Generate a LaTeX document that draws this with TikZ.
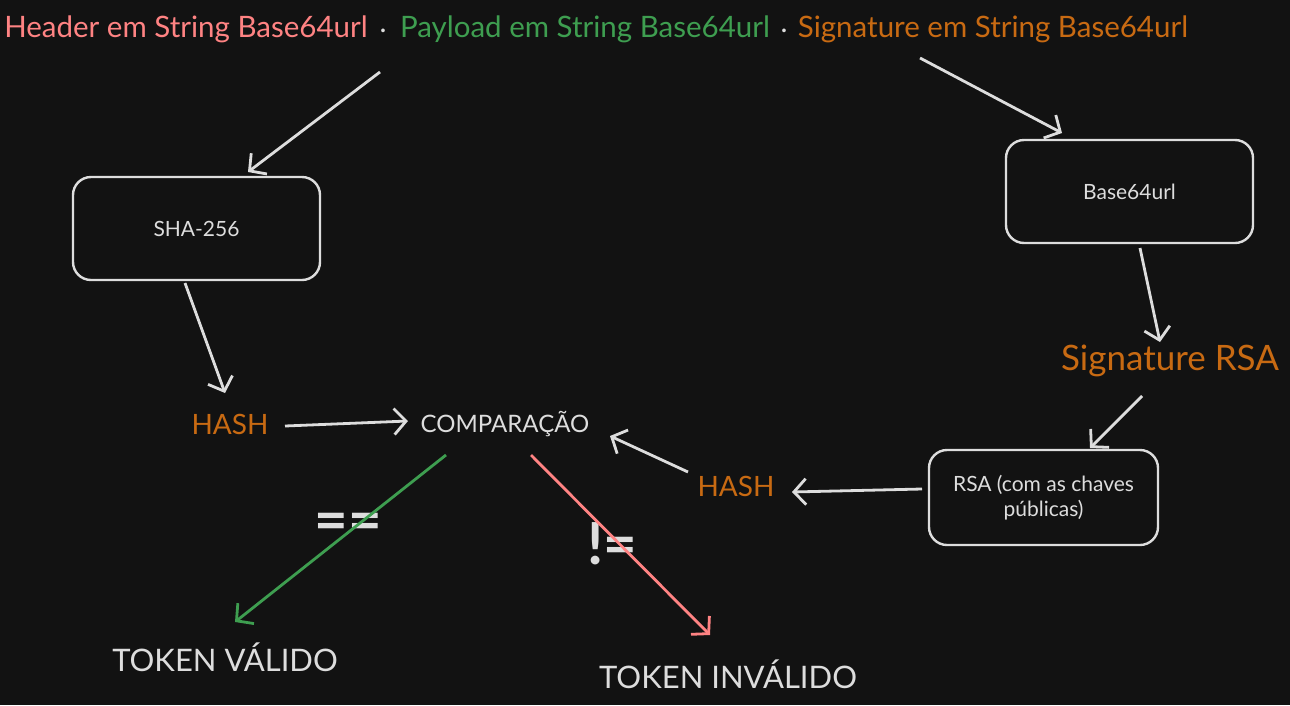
\documentclass[tikz,border=0pt]{standalone}
\usepackage{fontspec}
\setmainfont{Lato}
\usetikzlibrary{arrows.meta}

\definecolor{bgcol}{HTML}{121212}
\definecolor{ink}{HTML}{DDDDDD}
\definecolor{hdrred}{HTML}{FF8383}
\definecolor{paygreen}{HTML}{3E9E50}
\definecolor{sigorange}{HTML}{C86A12}

\tikzstyle{box} = [draw=ink, line width=2.4pt, rounded corners=18pt, text=ink, align=center, font=\fontsize{21}{25}\selectfont]
\tikzstyle{hdr} = [inner sep=0pt, font=\fontsize{29.5}{32}\selectfont]
\tikzstyle{lbl} = [inner sep=0pt, font=\fontsize{28}{32}\selectfont]
\tikzstyle{op} = [inner sep=0pt, text=ink, font=\fontsize{58}{60}\selectfont\bfseries]
\tikzstyle{flow} = [draw=ink, line width=2.8pt, -{Straight Barb[length=12pt,width=26pt]}]

\begin{document}
\begin{tikzpicture}[x=1pt, y=-1pt]
\fill[bgcol] (0,0) rectangle (1290,705);

% token in three parts
\node[hdr, text=hdrred] (header) at (186,29) {Header em String Base64url};
\node[hdr, text=ink] (dot1) at (383,31) {.};
\node[hdr, text=paygreen] (payload) at (585,29) {Payload em String Base64url};
\node[hdr, text=ink] (dot2) at (784,31) {.};
\node[hdr, text=sigorange] (signature) at (993,29) {Signature em String Base64url};

% boxes
\node[box, minimum width=247pt, minimum height=103pt] (sha) at (196.5,228.5) {SHA-256};
\node[box, minimum width=247pt, minimum height=103pt] (b64) at (1129.5,191.5) {Base64url};
\node[box, minimum width=229pt, minimum height=95pt] (rsa) at (1043.5,497.5) {RSA (com as chaves\\públicas)};

% labels
\node[lbl, text=sigorange, font=\fontsize{35}{38}\selectfont] (sigrsa) at (1170,361) {Signature RSA};
\node[lbl, text=sigorange] (hashL) at (230,424) {HASH};
\node[lbl, text=sigorange] (hashR) at (736,486) {HASH};
\node[lbl, text=ink, font=\fontsize{24}{28}\selectfont] (comp) at (505,424) {COMPARAÇÃO};
\node[lbl, text=ink, font=\fontsize{31}{34}\selectfont] (tokv) at (225,657) {TOKEN VÁLIDO};
\node[lbl, text=ink, font=\fontsize{31}{34}\selectfont] (toki) at (728,674) {TOKEN INVÁLIDO};
\node[op] (eq) at (348,527) {==};
\node[op] (neq) at (612,544) {!=};

% connectors
\draw[flow] ([shift={(-3,41)}]dot1.center) -- ([shift={(51.5,-56.5)}]sha.center);
\draw[flow] ([shift={(-73,29)}]signature.center) -- ([shift={(-67.5,-58.5)}]b64.center);
\draw[flow] ([shift={(-11.5,54.5)}]sha.center) -- ([shift={(-5,-31)}]hashL.center);
\draw[flow] ([shift={(55,2)}]hashL.center) -- ([shift={(-97,-3)}]comp.center);
\draw[flow] ([shift={(10.5,56.5)}]b64.center) -- ([shift={(-10,-19)}]sigrsa.center);
\draw[flow] ([shift={(-28,35)}]sigrsa.center) -- ([shift={(46.5,-49.5)}]rsa.center);
\draw[flow] ([shift={(-121.5,-8.5)}]rsa.center) -- ([shift={(56,6)}]hashR.center);
\draw[flow] ([shift={(-48,-14)}]hashR.center) -- ([shift={(105,12)}]comp.center);
\draw[flow, draw=paygreen] ([shift={(-59,31)}]comp.center) -- ([shift={(10,-35)}]tokv.center);
\draw[flow, draw=hdrred] ([shift={(26,31)}]comp.center) -- ([shift={(-18,-39)}]toki.center);
\end{tikzpicture}
\end{document}
